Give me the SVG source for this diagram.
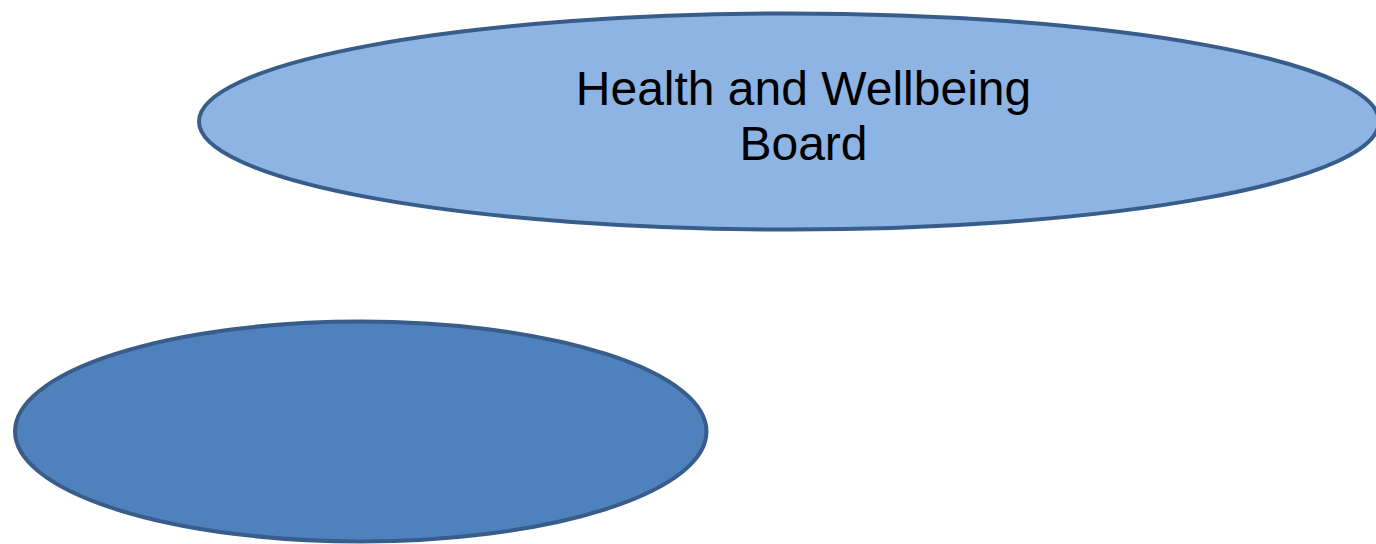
<svg xmlns="http://www.w3.org/2000/svg" width="1376" height="544" viewBox="0 0 1376 544">
<style>
.shape{stroke:#385D8A;stroke-width:4}
.lbl{font-family:"Liberation Sans",Arial,sans-serif;font-size:48px;fill:#000;text-anchor:middle}
</style>
<rect width="1376" height="544" fill="#fff"/>
<g id="hwb">
<ellipse class="shape" cx="789" cy="121.5" rx="590" ry="108" fill="#8EB4E3"/>
<text class="lbl" x="803.5" y="105">Health and Wellbeing</text>
<text class="lbl" x="803.5" y="160">Board</text>
</g>
<g id="node2">
<ellipse class="shape" cx="360.75" cy="431.5" rx="345.75" ry="110" fill="#4F81BD"/>
</g>
<g id="connectors"></g>
</svg>
